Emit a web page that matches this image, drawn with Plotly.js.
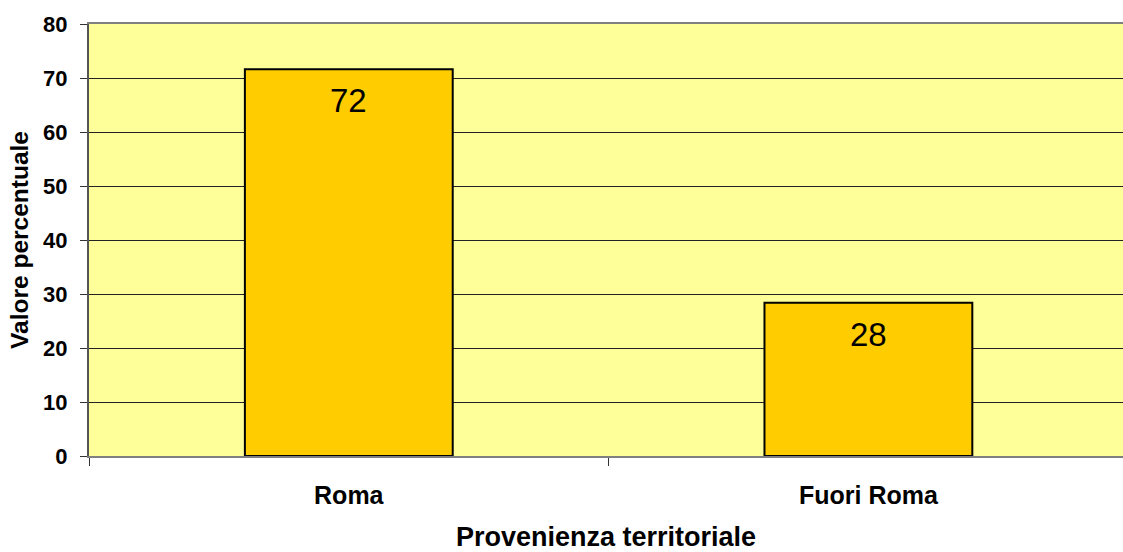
<!DOCTYPE html>
<html>
<head>
<meta charset="utf-8">
<script src="https://cdn.plot.ly/plotly-3.0.1.min.js"></script>
<style>html,body{margin:0;padding:0;background:#fff;overflow:hidden}</style>
</head>
<body>
<div id="chart" style="width:1123px;height:552px"></div>
<script>
const categories = ["Roma", "Fuori Roma"];
const values = [71.6, 28.4];
const labels = ["72", "28"];
const yTicks = [0, 10, 20, 30, 40, 50, 60, 70, 80];

const FONT = "Liberation Sans, Arial, sans-serif";

const trace = {
  type: "bar",
  x: categories,
  y: values,
  width: 0.4,
  marker: {color: "#FFCC00", line: {color: "#000000", width: 2}},
  hoverinfo: "none"
};

const annotations = categories.map((c, i) => ({
  x: c, y: values[i], xref: "x", yref: "y",
  text: labels[i], showarrow: false, yanchor: "top", yshift: -11,
  font: {family: FONT, size: 33, color: "#000"}
}));

const layout = {
  width: 1123, height: 552,
  margin: {l: 89, r: 0, t: 24, b: 96, pad: 0},
  paper_bgcolor: "#ffffff",
  plot_bgcolor: "#FFFF99",
  showlegend: false,
  font: {family: FONT, color: "#000"},
  xaxis: {
    type: "category",
    range: [-0.5, 1.49],
    ticks: "outside", tickson: "boundaries", ticklen: 8, tickcolor: "#333",
    ticklabelstandoff: 16,
    tickfont: {size: 25, family: FONT, weight: "bold"},
    showline: true, linecolor: "#808080", linewidth: 2, mirror: true,
    showgrid: false, zeroline: false,
    title: {text: "<b>Provenienza territoriale</b>", font: {size: 27}, standoff: 25}
  },
  yaxis: {
    range: [0, 80], tickvals: yTicks,
    ticks: "outside", ticklen: 7, tickcolor: "#333",
    ticklabelstandoff: 8,
    tickfont: {size: 22, family: FONT, weight: "bold"},
    showline: true, linecolor: "#555", linewidth: 2,
    showgrid: true, gridcolor: "#222", gridwidth: 1,
    zeroline: false,
    title: {text: "<b>Valore percentuale</b>", font: {size: 24.5}, standoff: 8}
  },
  annotations: annotations
};

Plotly.newPlot("chart", [trace], layout, {displayModeBar: false, staticPlot: true});
</script>
</body>
</html>
